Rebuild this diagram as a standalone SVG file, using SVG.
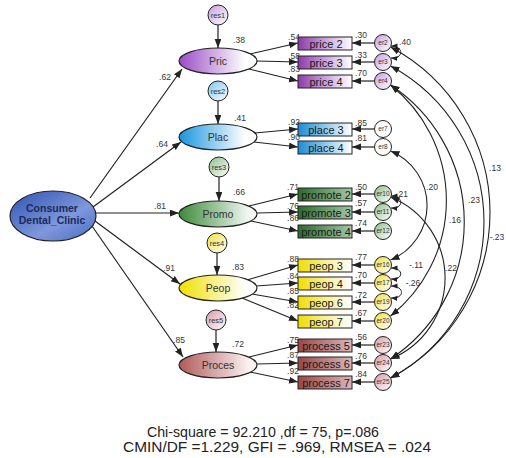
<svg xmlns="http://www.w3.org/2000/svg" width="506" height="458" viewBox="0 0 506 458">
<defs>
<linearGradient id="gPur" x1="0" x2="1" y1="0" y2="0"><stop offset="0" stop-color="#9a4cc6"/><stop offset="0.85" stop-color="#ffffff"/></linearGradient>
<linearGradient id="gBlu" x1="0" x2="1" y1="0" y2="0"><stop offset="0" stop-color="#1796de"/><stop offset="0.85" stop-color="#ffffff"/></linearGradient>
<linearGradient id="gGrn" x1="0" x2="1" y1="0" y2="0"><stop offset="0" stop-color="#3b8a3b"/><stop offset="0.9" stop-color="#f4f8f4"/></linearGradient>
<linearGradient id="gYel" x1="0" x2="1" y1="0" y2="0"><stop offset="0" stop-color="#f0e000"/><stop offset="0.85" stop-color="#ffffff"/></linearGradient>
<linearGradient id="gRos" x1="0" x2="1" y1="0" y2="0"><stop offset="0" stop-color="#b05a5a"/><stop offset="0.9" stop-color="#fbf2f2"/></linearGradient>
<linearGradient id="gCons" x1="0" x2="1" y1="0" y2="1"><stop offset="0" stop-color="#2d52b2"/><stop offset="0.6" stop-color="#7f97dc"/><stop offset="1" stop-color="#4a6cc4"/></linearGradient>
<linearGradient id="bPur" x1="0" x2="1" y1="0" y2="0"><stop offset="0" stop-color="#8a3aa8"/><stop offset="0.5" stop-color="#c9a2dc"/><stop offset="1" stop-color="#ffffff"/></linearGradient>
<linearGradient id="bBlu" x1="0" x2="1" y1="0" y2="0"><stop offset="0" stop-color="#1a8cd6"/><stop offset="0.5" stop-color="#8cc8ee"/><stop offset="1" stop-color="#ffffff"/></linearGradient>
<linearGradient id="bGrn" x1="0" x2="1" y1="0" y2="0"><stop offset="0" stop-color="#2c6a2c"/><stop offset="1" stop-color="#a4c6a4"/></linearGradient>
<linearGradient id="bYel" x1="0" x2="1" y1="0" y2="0"><stop offset="0" stop-color="#f0dc00"/><stop offset="0.5" stop-color="#f8f090"/><stop offset="1" stop-color="#ffffff"/></linearGradient>
<linearGradient id="bRos" x1="0" x2="1" y1="0" y2="0"><stop offset="0" stop-color="#9a4646"/><stop offset="1" stop-color="#dcb6b6"/></linearGradient>
<linearGradient id="cPur" x1="0" x2="1" y1="0" y2="1"><stop offset="0" stop-color="#c79ee0"/><stop offset="1" stop-color="#ffffff"/></linearGradient>
<linearGradient id="cBlu" x1="0" x2="1" y1="0" y2="1"><stop offset="0" stop-color="#7cc6ee"/><stop offset="1" stop-color="#ffffff"/></linearGradient>
<linearGradient id="cGrn" x1="0" x2="1" y1="0" y2="1"><stop offset="0" stop-color="#8cbf8c"/><stop offset="1" stop-color="#ffffff"/></linearGradient>
<linearGradient id="cYel" x1="0" x2="1" y1="0" y2="1"><stop offset="0" stop-color="#eee040"/><stop offset="1" stop-color="#ffffff"/></linearGradient>
<linearGradient id="cRos" x1="0" x2="1" y1="0" y2="1"><stop offset="0" stop-color="#d89aa6"/><stop offset="1" stop-color="#ffffff"/></linearGradient>
<marker id="ah" markerUnits="userSpaceOnUse" markerWidth="10" markerHeight="8" refX="9" refY="3.4" orient="auto-start-reverse"><path d="M0,0 L9,3.4 L0,6.8 z" fill="#222"/></marker>
<marker id="ahs" markerUnits="userSpaceOnUse" markerWidth="8" markerHeight="6" refX="6.5" refY="2.6" orient="auto-start-reverse"><path d="M0,0 L6.5,2.6 L0,5.2 z" fill="#222"/></marker>
<style>
.ln{stroke:#222;stroke-width:1.2;fill:none;marker-end:url(#ah)}
.arc{stroke:#222;stroke-width:1.1;fill:none;marker-start:url(#ah);marker-end:url(#ah)}
.sarc{stroke:#222;stroke-width:1;fill:none;marker-start:url(#ahs);marker-end:url(#ahs)}
.lat{stroke:#222;stroke-width:1.2}
.box{stroke:#222;stroke-width:1}
.cir{stroke:#222;stroke-width:1}
.ln2{font-family:"Liberation Sans",Arial,sans-serif;font-size:10.5px;fill:#333;text-anchor:middle}
.bt{font-family:"Liberation Sans",Arial,sans-serif;font-size:11px;fill:#1a1a1a;text-anchor:middle}
.ct{font-family:"Liberation Sans",Arial,sans-serif;font-size:6.5px;fill:#333;text-anchor:middle}
.rt{font-family:"Liberation Sans",Arial,sans-serif;font-size:7.5px;fill:#333;text-anchor:middle}
.v{font-family:"Liberation Sans",Arial,sans-serif;font-size:8.5px;fill:#333;text-anchor:middle}
.ft{font-family:"Liberation Sans",Arial,sans-serif;font-size:14.5px;fill:#222;text-anchor:middle}
</style>
</defs>
<rect width="506" height="458" fill="#ffffff"/>

<g id="connectors">
<line class="ln" x1="90" y1="198" x2="182" y2="69"/>
<line class="ln" x1="93" y1="207" x2="181" y2="142"/>
<line class="ln" x1="96" y1="213" x2="179" y2="213"/>
<line class="ln" x1="95" y1="221" x2="180" y2="284"/>
<line class="ln" x1="92" y1="226" x2="183" y2="357"/>
<line class="ln" x1="218" y1="25" x2="218" y2="48"/>
<line class="ln" x1="218" y1="101" x2="218" y2="124"/>
<line class="ln" x1="219" y1="177" x2="219" y2="201"/>
<line class="ln" x1="217" y1="253" x2="217" y2="275"/>
<line class="ln" x1="216" y1="330" x2="216" y2="352"/>
<line class="ln" x1="250" y1="54" x2="298" y2="43"/>
<line class="ln" x1="257" y1="61" x2="298" y2="62"/>
<line class="ln" x1="249" y1="69" x2="298" y2="81"/>
<line class="ln" x1="255" y1="133" x2="298" y2="129"/>
<line class="ln" x1="254" y1="142" x2="298" y2="147"/>
<line class="ln" x1="249" y1="206" x2="298" y2="194"/>
<line class="ln" x1="257" y1="213" x2="298" y2="212"/>
<line class="ln" x1="251" y1="221" x2="298" y2="231"/>
<line class="ln" x1="247" y1="280" x2="298" y2="265"/>
<line class="ln" x1="256" y1="286" x2="298" y2="283"/>
<line class="ln" x1="252" y1="294" x2="298" y2="302"/>
<line class="ln" x1="242" y1="298" x2="298" y2="321"/>
<line class="ln" x1="249" y1="357" x2="298" y2="345"/>
<line class="ln" x1="257" y1="364" x2="298" y2="363"/>
<line class="ln" x1="250" y1="372" x2="298" y2="382"/>
<line class="ln" x1="374.5" y1="43" x2="352" y2="43"/>
<line class="ln" x1="374.5" y1="62" x2="352" y2="62"/>
<line class="ln" x1="374.5" y1="81" x2="352" y2="81"/>
<line class="ln" x1="374.5" y1="129" x2="352" y2="129"/>
<line class="ln" x1="374.5" y1="147" x2="352" y2="147"/>
<line class="ln" x1="374.5" y1="194" x2="352" y2="194"/>
<line class="ln" x1="374.5" y1="212" x2="352" y2="212"/>
<line class="ln" x1="374.5" y1="231" x2="352" y2="231"/>
<line class="ln" x1="374.5" y1="265" x2="352" y2="265"/>
<line class="ln" x1="374.5" y1="283" x2="352" y2="283"/>
<line class="ln" x1="374.5" y1="302" x2="352" y2="302"/>
<line class="ln" x1="374.5" y1="321" x2="352" y2="321"/>
<line class="ln" x1="374.5" y1="345" x2="352" y2="345"/>
<line class="ln" x1="374.5" y1="363" x2="352" y2="363"/>
<line class="ln" x1="374.5" y1="382" x2="352" y2="382"/>
<path class="arc" d="M390.5,47 A187.4,187.4 0 0 1 390.5,378"/>
<path class="arc" d="M390.5,66 A176.9,176.9 0 0 1 390.5,378"/>
<path class="arc" d="M390.5,85 A164.1,164.1 0 0 1 390.5,359"/>
<path class="arc" d="M390.5,85 A147.3,147.3 0 0 1 390.5,316"/>
<path class="arc" d="M390.5,151 A58.9,58.9 0 0 1 390.5,260"/>
<path class="arc" d="M390.5,197 A87.4,87.4 0 0 1 390.5,359"/>
<path class="sarc" d="M391,46 C404,46 404,59 391,58"/>
<path class="sarc" d="M391,196 C404,196 404,209 391,208"/>
<path class="sarc" d="M391,268 C404,268 404,280 391,279"/>
<path class="sarc" d="M391,286 C405,286 405,299 391,298"/>
</g>

<g id="path-labels">
<text class="v" x="165" y="80">.62</text>
<text class="v" x="162" y="147">.64</text>
<text class="v" x="160" y="209">.81</text>
<text class="v" x="169" y="271">.91</text>
<text class="v" x="179" y="343">.85</text>
<text class="v" x="239" y="43">.38</text>
<text class="v" x="240" y="121">.41</text>
<text class="v" x="239" y="195">.66</text>
<text class="v" x="238" y="270">.83</text>
<text class="v" x="238" y="347">.72</text>
<text class="v" x="294" y="40">.54</text>
<text class="v" x="294" y="59">.58</text>
<text class="v" x="294" y="72">.83</text>
<text class="v" x="294" y="125">.92</text>
<text class="v" x="294" y="140">.90</text>
<text class="v" x="293" y="190">.71</text>
<text class="v" x="293" y="209">.76</text>
<text class="v" x="293" y="221">.86</text>
<text class="v" x="293" y="262">.88</text>
<text class="v" x="293" y="279">.84</text>
<text class="v" x="293" y="294">.85</text>
<text class="v" x="293" y="308">.82</text>
<text class="v" x="293" y="343">.75</text>
<text class="v" x="293" y="358">.87</text>
<text class="v" x="293" y="374">.92</text>
<text class="v" x="361" y="38">.30</text>
<text class="v" x="361" y="58">.33</text>
<text class="v" x="361" y="76">.70</text>
<text class="v" x="361" y="126">.85</text>
<text class="v" x="361" y="141">.81</text>
<text class="v" x="361" y="190">.50</text>
<text class="v" x="361" y="206">.57</text>
<text class="v" x="361" y="226">.74</text>
<text class="v" x="361" y="260">.77</text>
<text class="v" x="361" y="278">.70</text>
<text class="v" x="361" y="298">.72</text>
<text class="v" x="361" y="316">.67</text>
<text class="v" x="361" y="340">.56</text>
<text class="v" x="361" y="359">.76</text>
<text class="v" x="361" y="377">.84</text>
<text class="v" x="405" y="45">.40</text>
<text class="v" x="495" y="171">.13</text>
<text class="v" x="497" y="240">-.23</text>
<text class="v" x="474" y="203">.23</text>
<text class="v" x="455" y="223">.16</text>
<text class="v" x="432" y="190">.20</text>
<text class="v" x="451" y="271">.22</text>
<text class="v" x="402" y="197">.21</text>
<text class="v" x="416" y="268">-.11</text>
<text class="v" x="413" y="286">-.26</text>
</g>

<g id="consumer">
<ellipse class="lat" cx="53" cy="216" rx="43" ry="25" fill="url(#gCons)"/>
<text x="52" y="212" font-family="'Liberation Sans',Arial,sans-serif" font-size="10.5" font-weight="bold" fill="#1c2a5a" text-anchor="middle">Consumer</text>
<text x="52" y="224" font-family="'Liberation Sans',Arial,sans-serif" font-size="10.5" font-weight="bold" fill="#1c2a5a" text-anchor="middle">Dental_Clinic</text>
</g>

<g id="pric"><ellipse class="lat" cx="218" cy="61" rx="39" ry="13" fill="url(#gPur)"/><text class="ln2" x="218" y="65">Pric</text></g>
<g id="plac"><ellipse class="lat" cx="218" cy="137" rx="39" ry="13" fill="url(#gBlu)"/><text class="ln2" x="218" y="141">Plac</text></g>
<g id="promo"><ellipse class="lat" cx="218" cy="214" rx="39" ry="13" fill="url(#gGrn)"/><text class="ln2" x="218" y="218">Promo</text></g>
<g id="peop"><ellipse class="lat" cx="218" cy="288" rx="39" ry="13" fill="url(#gYel)"/><text class="ln2" x="218" y="292">Peop</text></g>
<g id="proces"><ellipse class="lat" cx="218" cy="365" rx="39" ry="13" fill="url(#gRos)"/><text class="ln2" x="218" y="369">Proces</text></g>

<g id="res1"><circle class="cir" cx="218" cy="15" r="10" fill="url(#cPur)"/><text class="rt" x="218" y="17.5">res1</text></g>
<g id="res2"><circle class="cir" cx="218" cy="91" r="10" fill="url(#cBlu)"/><text class="rt" x="218" y="93.5">res2</text></g>
<g id="res3"><circle class="cir" cx="219" cy="167" r="10" fill="url(#cGrn)"/><text class="rt" x="219" y="169.5">res3</text></g>
<g id="res4"><circle class="cir" cx="217" cy="243" r="10" fill="url(#cYel)"/><text class="rt" x="217" y="245.5">res4</text></g>
<g id="res5"><circle class="cir" cx="216" cy="320" r="10" fill="url(#cRos)"/><text class="rt" x="216" y="322.5">res5</text></g>

<g id="price2"><rect class="box" x="298" y="37" width="54" height="13" fill="url(#bPur)"/><text class="bt" x="326" y="47.5">price 2</text></g>
<g id="price3"><rect class="box" x="298" y="56" width="54" height="13" fill="url(#bPur)"/><text class="bt" x="326" y="66.5">price 3</text></g>
<g id="price4"><rect class="box" x="298" y="75" width="54" height="13" fill="url(#bPur)"/><text class="bt" x="326" y="85.5">price 4</text></g>
<g id="place3"><rect class="box" x="298" y="123" width="54" height="13" fill="url(#bBlu)"/><text class="bt" x="326" y="133.5">place 3</text></g>
<g id="place4"><rect class="box" x="298" y="141" width="54" height="13" fill="url(#bBlu)"/><text class="bt" x="326" y="151.5">place 4</text></g>
<g id="promote2"><rect class="box" x="298" y="188" width="54" height="13" fill="url(#bGrn)"/><text class="bt" x="326" y="198.5">promote 2</text></g>
<g id="promote3"><rect class="box" x="298" y="206" width="54" height="13" fill="url(#bGrn)"/><text class="bt" x="326" y="216.5">promote 3</text></g>
<g id="promote4"><rect class="box" x="298" y="225" width="54" height="13" fill="url(#bGrn)"/><text class="bt" x="326" y="235.5">promote 4</text></g>
<g id="peop3"><rect class="box" x="298" y="259" width="54" height="13" fill="url(#bYel)"/><text class="bt" x="326" y="269.5">peop 3</text></g>
<g id="peop4"><rect class="box" x="298" y="277" width="54" height="13" fill="url(#bYel)"/><text class="bt" x="326" y="287.5">peop 4</text></g>
<g id="peop6"><rect class="box" x="298" y="296" width="54" height="13" fill="url(#bYel)"/><text class="bt" x="326" y="306.5">peop 6</text></g>
<g id="peop7"><rect class="box" x="298" y="315" width="54" height="13" fill="url(#bYel)"/><text class="bt" x="326" y="325.5">peop 7</text></g>
<g id="process5"><rect class="box" x="298" y="339" width="54" height="13" fill="url(#bRos)"/><text class="bt" x="326" y="349.5">process 5</text></g>
<g id="process6"><rect class="box" x="298" y="357" width="54" height="13" fill="url(#bRos)"/><text class="bt" x="326" y="367.5">process 6</text></g>
<g id="process7"><rect class="box" x="298" y="376" width="54" height="13" fill="url(#bRos)"/><text class="bt" x="326" y="386.5">process 7</text></g>

<g id="er2"><circle class="cir" cx="383" cy="43" r="8.5" fill="url(#cPur)"/><text class="ct" x="383" y="45.3">er2</text></g>
<g id="er3"><circle class="cir" cx="383" cy="62" r="8.5" fill="url(#cPur)"/><text class="ct" x="383" y="64.3">er3</text></g>
<g id="er4"><circle class="cir" cx="383" cy="81" r="8.5" fill="url(#cPur)"/><text class="ct" x="383" y="83.3">er4</text></g>
<g id="er7"><circle class="cir" cx="383" cy="129" r="8.5" fill="#ffffff"/><text class="ct" x="383" y="131.3">er7</text></g>
<g id="er8"><circle class="cir" cx="383" cy="147" r="8.5" fill="#ffffff"/><text class="ct" x="383" y="149.3">er8</text></g>
<g id="er10"><circle class="cir" cx="383" cy="194" r="8.5" fill="url(#cGrn)"/><text class="ct" x="383" y="196.3">er10</text></g>
<g id="er11"><circle class="cir" cx="383" cy="212" r="8.5" fill="url(#cGrn)"/><text class="ct" x="383" y="214.3">er11</text></g>
<g id="er12"><circle class="cir" cx="383" cy="231" r="8.5" fill="url(#cGrn)"/><text class="ct" x="383" y="233.3">er12</text></g>
<g id="er16"><circle class="cir" cx="383" cy="265" r="8.5" fill="url(#cYel)"/><text class="ct" x="383" y="267.3">er16</text></g>
<g id="er17"><circle class="cir" cx="383" cy="283" r="8.5" fill="url(#cYel)"/><text class="ct" x="383" y="285.3">er17</text></g>
<g id="er19"><circle class="cir" cx="383" cy="302" r="8.5" fill="url(#cYel)"/><text class="ct" x="383" y="304.3">er19</text></g>
<g id="er20"><circle class="cir" cx="383" cy="321" r="8.5" fill="url(#cYel)"/><text class="ct" x="383" y="323.3">er20</text></g>
<g id="er23"><circle class="cir" cx="383" cy="345" r="8.5" fill="url(#cRos)"/><text class="ct" x="383" y="347.3">er23</text></g>
<g id="er24"><circle class="cir" cx="383" cy="363" r="8.5" fill="url(#cRos)"/><text class="ct" x="383" y="365.3">er24</text></g>
<g id="er25"><circle class="cir" cx="383" cy="382" r="8.5" fill="url(#cRos)"/><text class="ct" x="383" y="384.3">er25</text></g>

<g id="fit">
<text class="ft" x="263" y="437" textLength="232" lengthAdjust="spacingAndGlyphs">Chi-square = 92.210 ,df = 75, p=.086</text>
<text class="ft" x="277" y="452" textLength="308" lengthAdjust="spacingAndGlyphs">CMIN/DF =1.229, GFI = .969, RMSEA = .024</text>
</g>
</svg>
